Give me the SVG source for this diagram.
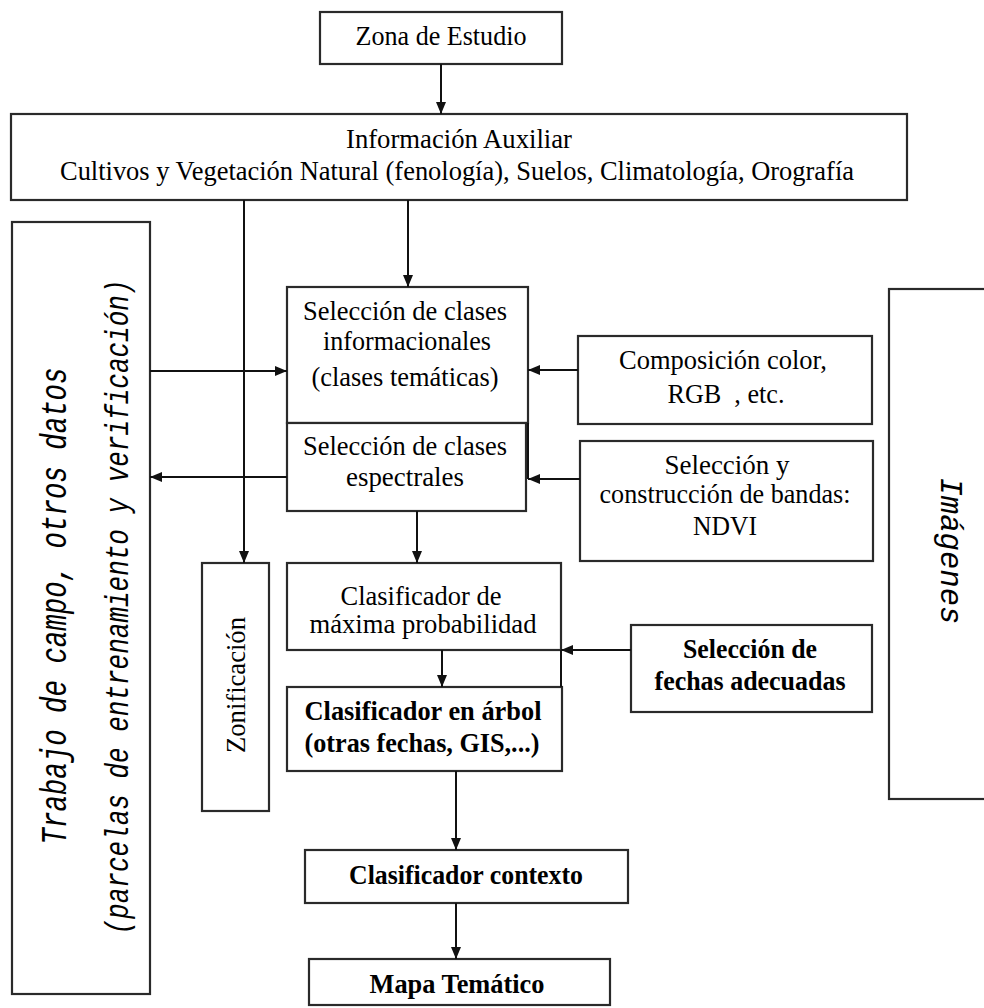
<svg xmlns="http://www.w3.org/2000/svg" width="984" height="1008" viewBox="0 0 984 1008">
<style>
.box{fill:#fff;stroke:#2a2a2a;stroke-width:2.2}
.t{font-family:"Liberation Serif","Times New Roman",serif;font-size:28px;fill:#000;text-anchor:middle}
.b{font-family:"Liberation Serif","Times New Roman",serif;font-size:28px;font-weight:bold;fill:#000;text-anchor:middle}
.m{font-family:"Liberation Mono","Courier New",monospace;font-style:italic;fill:#000;text-anchor:middle}
.c{fill:none;stroke:#111;stroke-width:2}
</style>
<defs>
<marker id="ah" viewBox="0 0 12 10" refX="12" refY="5" markerWidth="12" markerHeight="10" markerUnits="userSpaceOnUse" orient="auto">
<path d="M0,0 L12,5 L0,10 z" fill="#111"/>
</marker>
</defs>
<rect width="984" height="1008" fill="#fff"/>

<g id="zona">
<rect class="box" x="320" y="12" width="242" height="52"/>
<text class="t" x="441" y="45" textLength="171" lengthAdjust="spacingAndGlyphs">Zona de Estudio</text>
</g>

<g id="info">
<rect class="box" x="11" y="114" width="896" height="86"/>
<text class="t" x="459" y="148" textLength="226" lengthAdjust="spacingAndGlyphs">Información Auxiliar</text>
<text class="t" x="457" y="180" textLength="794" lengthAdjust="spacingAndGlyphs">Cultivos y Vegetación Natural (fenología), Suelos, Climatología, Orografía</text>
</g>

<g id="campo">
<rect class="box" x="12" y="222" width="138" height="772"/>
<text class="m" font-size="36" transform="translate(66,606) rotate(-90)" textLength="477" lengthAdjust="spacingAndGlyphs">Trabajo de campo, otros datos</text>
<text class="m" font-size="33" transform="translate(128,607) rotate(-90)" textLength="655" lengthAdjust="spacingAndGlyphs">(parcelas de entrenamiento y verificación)</text>
</g>

<g id="imagenes">
<rect class="box" x="889" y="289" width="110" height="510"/>
<text class="m" font-size="31" transform="translate(941,551) rotate(90)" textLength="147" lengthAdjust="spacingAndGlyphs">Imágenes</text>
</g>

<g id="selinfo">
<rect class="box" x="287" y="287" width="241" height="136"/>
<text class="t" x="405" y="320" textLength="204" lengthAdjust="spacingAndGlyphs">Selección de clases</text>
<text class="t" x="407" y="350" textLength="168" lengthAdjust="spacingAndGlyphs">informacionales</text>
<text class="t" x="405" y="386" textLength="187" lengthAdjust="spacingAndGlyphs">(clases temáticas)</text>
</g>

<g id="selesp">
<rect class="box" x="287" y="423" width="239" height="88"/>
<text class="t" x="405" y="455" textLength="204" lengthAdjust="spacingAndGlyphs">Selección de clases</text>
<text class="t" x="405" y="486" textLength="118" lengthAdjust="spacingAndGlyphs">espectrales</text>
</g>

<g id="comp">
<rect class="box" x="578" y="336" width="294" height="88"/>
<text class="t" x="723" y="369" textLength="208" lengthAdjust="spacingAndGlyphs">Composición color,</text>
<text class="t" x="726" y="403" xml:space="preserve" textLength="117" lengthAdjust="spacingAndGlyphs">RGB  , etc.</text>
</g>

<g id="selband">
<rect class="box" x="580" y="441" width="293" height="120"/>
<text class="t" x="727" y="474" textLength="125" lengthAdjust="spacingAndGlyphs">Selección y</text>
<text class="t" x="725" y="503" textLength="251" lengthAdjust="spacingAndGlyphs">construcción de bandas:</text>
<text class="t" x="725" y="535" textLength="64" lengthAdjust="spacingAndGlyphs">NDVI</text>
</g>

<g id="zonif">
<rect class="box" x="202" y="563" width="67" height="248"/>
<text class="t" transform="translate(245,685) rotate(-90)" textLength="136" lengthAdjust="spacingAndGlyphs">Zonificación</text>
</g>

<g id="maxprob">
<rect class="box" x="287" y="563" width="274" height="87"/>
<text class="t" x="421" y="605" textLength="161" lengthAdjust="spacingAndGlyphs">Clasificador de</text>
<text class="t" x="423" y="633" textLength="227" lengthAdjust="spacingAndGlyphs">máxima probabilidad</text>
</g>

<g id="arbol">
<rect class="box" x="287" y="687" width="275" height="84"/>
<text class="b" x="423" y="720" textLength="237" lengthAdjust="spacingAndGlyphs">Clasificador en árbol</text>
<text class="b" x="422" y="752" textLength="235" lengthAdjust="spacingAndGlyphs">(otras fechas, GIS,...)</text>
</g>

<g id="fechas">
<rect class="box" x="631" y="625" width="241" height="87"/>
<text class="b" x="750" y="658" textLength="134" lengthAdjust="spacingAndGlyphs">Selección de</text>
<text class="b" x="750" y="690" textLength="191" lengthAdjust="spacingAndGlyphs">fechas adecuadas</text>
</g>

<g id="contexto">
<rect class="box" x="305" y="850" width="323" height="53"/>
<text class="b" x="466" y="884" textLength="234" lengthAdjust="spacingAndGlyphs">Clasificador contexto</text>
</g>

<g id="mapa">
<rect class="box" x="309" y="959" width="301" height="46"/>
<text class="b" x="457" y="993" textLength="175" lengthAdjust="spacingAndGlyphs">Mapa Temático</text>
</g>

<g id="connectors">
<line class="c" x1="441" y1="64" x2="441" y2="114" marker-end="url(#ah)"/>
<line class="c" x1="244" y1="200" x2="244" y2="563" marker-end="url(#ah)"/>
<line class="c" x1="408" y1="200" x2="408" y2="287" marker-end="url(#ah)"/>
<line class="c" x1="150" y1="371" x2="287" y2="371" marker-end="url(#ah)"/>
<line class="c" x1="578" y1="370" x2="528" y2="370" marker-end="url(#ah)"/>
<line class="c" x1="287" y1="477" x2="150" y2="477" marker-end="url(#ah)"/>
<line class="c" x1="528" y1="423" x2="528" y2="479"/>
<line class="c" x1="580" y1="479" x2="528" y2="479" marker-end="url(#ah)"/>
<line class="c" x1="417" y1="511" x2="417" y2="563" marker-end="url(#ah)"/>
<line class="c" x1="442" y1="650" x2="442" y2="687" marker-end="url(#ah)"/>
<line class="c" x1="561" y1="650" x2="561" y2="687"/>
<line class="c" x1="631" y1="650" x2="561" y2="650" marker-end="url(#ah)"/>
<line class="c" x1="456" y1="771" x2="456" y2="850" marker-end="url(#ah)"/>
<line class="c" x1="456" y1="903" x2="456" y2="959" marker-end="url(#ah)"/>
</g>
</svg>
